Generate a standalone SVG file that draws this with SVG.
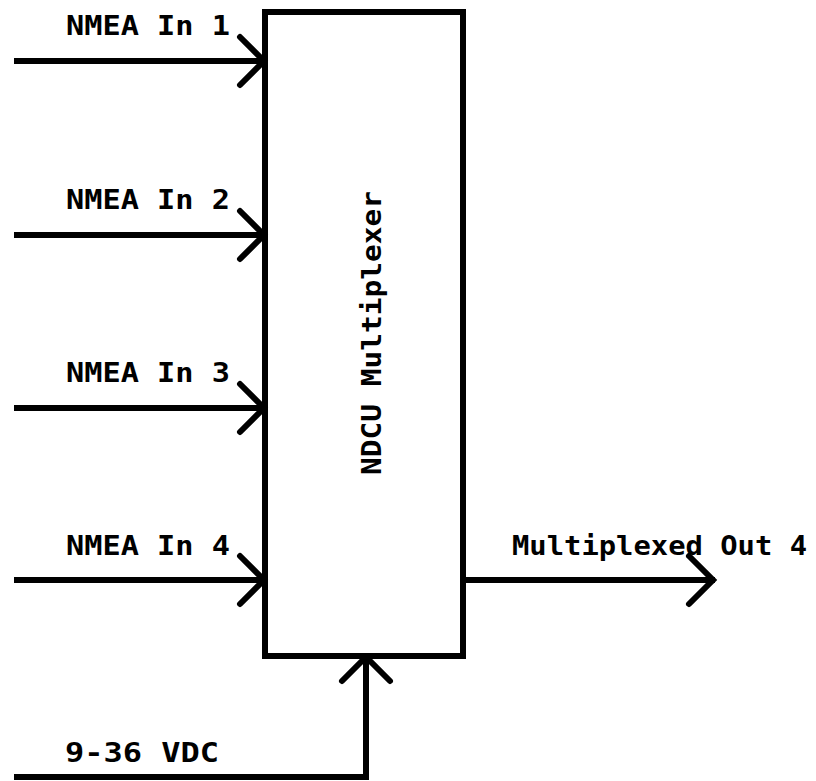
<svg xmlns="http://www.w3.org/2000/svg" width="816" height="781" viewBox="0 0 816 781">
<style>
.ln{stroke:#000;stroke-width:6;fill:none;stroke-linecap:square;stroke-linejoin:miter}
.ah{stroke:#000;stroke-width:6;fill:none;stroke-linecap:round;stroke-linejoin:miter}
.t{font-family:"DejaVu Sans Mono","Liberation Mono",monospace;font-weight:bold;font-size:27px;fill:#000}
</style>
<rect width="816" height="781" fill="#fff"/>
<g id="mux">
<rect x="265" y="12" width="198" height="644" class="ln"/>
<text class="t" transform="translate(381,333) rotate(-90)" text-anchor="middle" textLength="284" lengthAdjust="spacingAndGlyphs">NDCU Multiplexer</text>
</g>
<g id="in1"><text class="t" x="66" y="35" textLength="164" lengthAdjust="spacingAndGlyphs">NMEA In 1</text></g>
<g id="in2"><text class="t" x="66" y="209" textLength="164" lengthAdjust="spacingAndGlyphs">NMEA In 2</text></g>
<g id="in3"><text class="t" x="66" y="382" textLength="164" lengthAdjust="spacingAndGlyphs">NMEA In 3</text></g>
<g id="in4"><text class="t" x="66" y="555" textLength="164" lengthAdjust="spacingAndGlyphs">NMEA In 4</text></g>
<g id="out"><text class="t" x="512" y="555" textLength="295" lengthAdjust="spacingAndGlyphs">Multiplexed Out 4</text></g>
<g id="pwr"><text class="t" x="65" y="762" textLength="154" lengthAdjust="spacingAndGlyphs">9-36 VDC</text></g>
<g id="connectors">
<line class="ln" x1="17" y1="61" x2="263" y2="61"/>
<polyline class="ah" points="240,37 264,61 240,85"/>
<line class="ln" x1="17" y1="235" x2="263" y2="235"/>
<polyline class="ah" points="240,211 264,235 240,259"/>
<line class="ln" x1="17" y1="408" x2="263" y2="408"/>
<polyline class="ah" points="240,384 264,408 240,432"/>
<line class="ln" x1="17" y1="580" x2="263" y2="580"/>
<polyline class="ah" points="240,556 264,580 240,604"/>
<line class="ln" x1="466" y1="580" x2="712" y2="580"/>
<polyline class="ah" points="689,556 713,580 689,604"/>
<polyline class="ln" points="17,777 366,777 366,659"/>
<polyline class="ah" points="342,681 366,657 390,681"/>
</g>
</svg>
